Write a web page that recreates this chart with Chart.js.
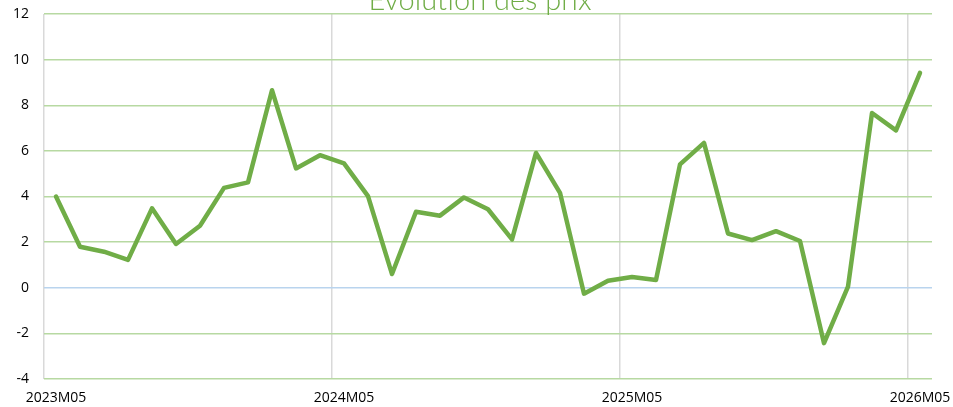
<!DOCTYPE html>
<html>
<head>
<meta charset="utf-8">
<script src="https://cdn.jsdelivr.net/npm/chart.js@4.4.1/dist/chart.umd.min.js"></script>
<style>
  html,body{margin:0;padding:0;background:#fff;}
  #wrap{width:953px;height:407px;position:relative;}
</style>
</head>
<body>
<div id="wrap"><canvas id="c"></canvas></div>
<script>
const months = [
  '2023M05','2023M06','2023M07','2023M08','2023M09','2023M10','2023M11','2023M12',
  '2024M01','2024M02','2024M03','2024M04','2024M05','2024M06','2024M07','2024M08',
  '2024M09','2024M10','2024M11','2024M12','2025M01','2025M02','2025M03','2025M04',
  '2025M05','2025M06','2025M07','2025M08','2025M09','2025M10','2025M11','2025M12',
  '2026M01','2026M02','2026M03','2026M04','2026M05'
];
const prices = [
  4.0, 1.8, 1.58, 1.22, 3.48, 1.92, 2.72, 4.38, 4.62, 8.66, 5.23, 5.81,
  5.45, 4.02, 0.6, 3.33, 3.16, 3.96, 3.44, 2.12, 5.91, 4.16, -0.26, 0.31,
  0.47, 0.34, 5.41, 6.35, 2.38, 2.09, 2.48, 2.05, -2.43, 0.05, 7.66, 6.9, 9.42
];
const yMin = -4, yMax = 12, yStep = 2;
const chartTitle = 'Évolution des prix';

const cLine = '#70AD47';
const cGridH = '#B7D9A2';
const cGridV = '#D9D9D9';
const cZero = '#B9D4EE';

const titlePlugin = {
  id:'topTitle',
  afterDraw(chart){
    const ctx = chart.ctx;
    ctx.save();
    ctx.fillStyle = cLine;
    ctx.font = '300 29px Lato';
    ctx.textAlign = 'center';
    ctx.textBaseline = 'alphabetic';
    ctx.fillText(chartTitle, 480, 10);
    ctx.restore();
  }
};

const ctx = document.getElementById('c').getContext('2d');
new Chart(ctx,{
  type:'line',
  data:{
    labels:months,
    datasets:[{
      data:prices,
      borderColor:cLine,
      borderWidth:4.5,
      pointRadius:0,
      tension:0,
      borderCapStyle:'round',
      borderJoinStyle:'round'
    }]
  },
  options:{
    responsive:true,
    maintainAspectRatio:false,
    animation:false,
    layout:{padding:{top:14,right:21,left:0,bottom:0}},
    plugins:{legend:{display:false},tooltip:{enabled:false},title:{display:false}},
    scales:{
      x:{
        type:'category',
        offset:true,
        afterFit(s){ s.height = 28; s.paddingLeft = 0; s.paddingRight = 0; },
        grid:{
          offset:true,
          drawTicks:false,
          color:c=> c.index%12===0 ? cGridV : 'rgba(0,0,0,0)',
          lineWidth:1.5
        },
        border:{display:false},
        ticks:{
          autoSkip:false,
          maxRotation:0,
          padding:11,
          color:'#000',
          font:{family:'Open Sans',size:14},
          callback:(v,i)=> i%12===0 ? months[i] : ''
        }
      },
      y:{
        min:yMin,max:yMax,
        afterFit(s){ s.width = 44; s.paddingTop = 0; s.paddingBottom = 0; },
        grid:{
          drawTicks:false,
          color:c=> c.tick && c.tick.value===0 ? cZero : cGridH,
          lineWidth:1.5
        },
        border:{display:false},
        ticks:{
          stepSize:yStep,
          padding:15,
          color:'#000',
          font:{family:'Open Sans',size:14}
        }
      }
    }
  },
  plugins:[titlePlugin]
});
</script>
</body>
</html>
